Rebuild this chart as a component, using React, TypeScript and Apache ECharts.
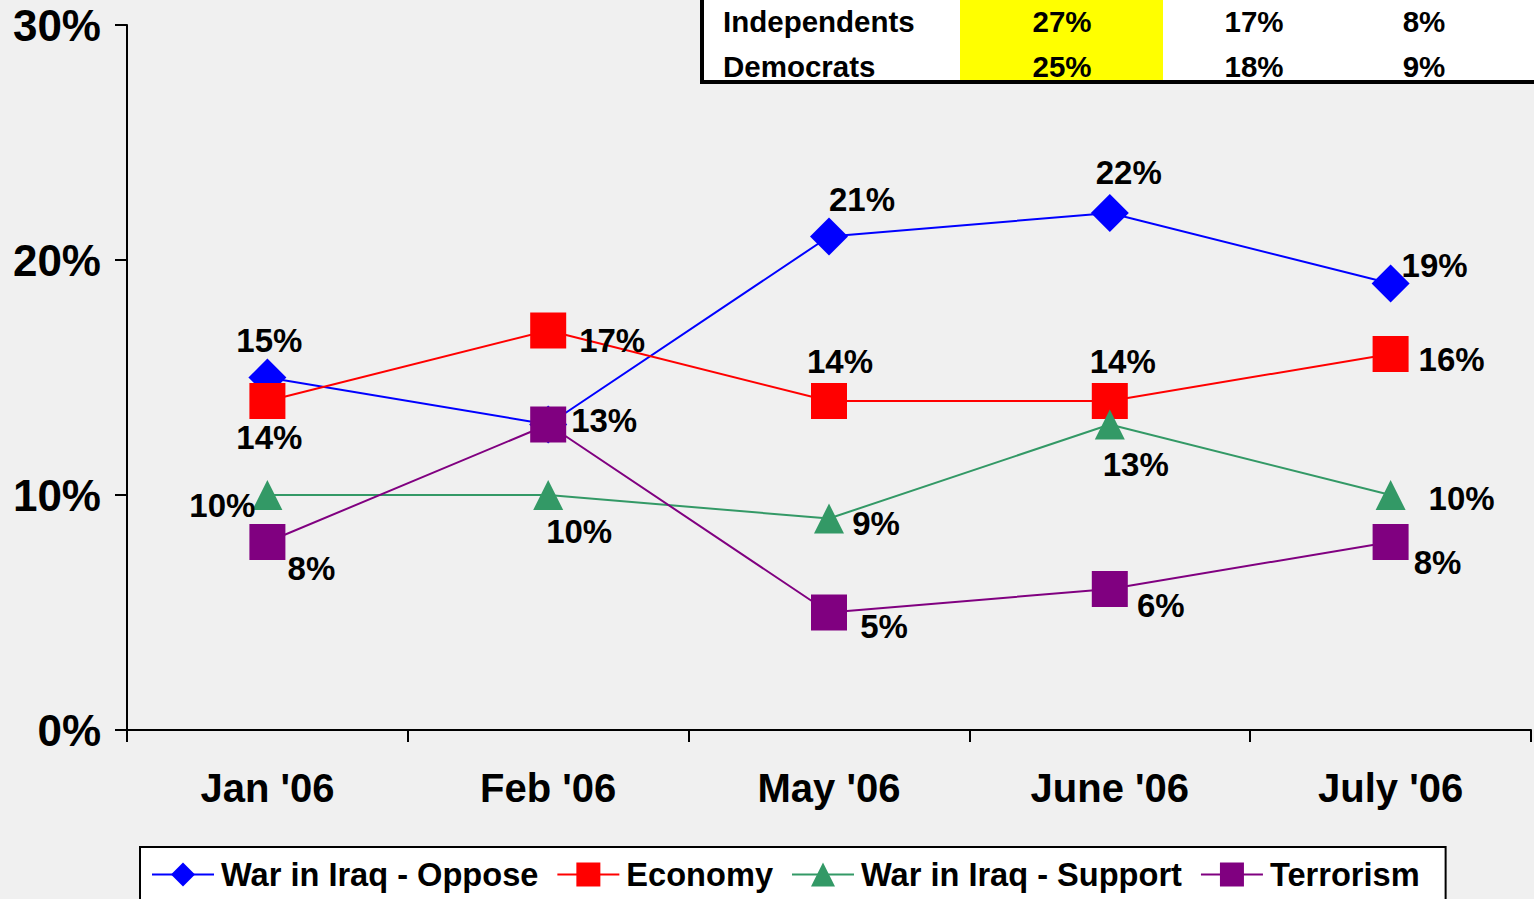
import React, { useEffect, useRef } from "react";
import * as echarts from "echarts";

const categories = ["Jan '06", "Feb '06", "May '06", "June '06", "July '06"];
const seriesNames = ["War in Iraq - Oppose", "Economy", "War in Iraq - Support", "Terrorism"];
const iraqOppose = [15, 13, 21, 22, 19];
const economy = [14, 17, 14, 14, 16];
const iraqSupport = [10, 10, 9, 13, 10];
const terrorism = [8, 13, 5, 6, 8];
const yTicks = [0, 10, 20, 30];

const tableRows = [
  ["Independents", "27%", "17%", "8%"],
  ["Democrats", "25%", "18%", "9%"],
];

// label offsets (style only) per series / point; null = no label
const labelOffsets: (number[] | null)[][] = [
  [[2, -37], null, [33, -37], [19, -41], [44, -18]],
  [[2, 36], [64, 10], [11, -40], [13, -40], [61, 5]],
  [[-45, 10], [31, 36], [47, 5], [26, 40], [71, 3]],
  [[44, 26], [56, -4], [55, 14], [51, 16], [47, 20]],
];

const colors = ["#0000FF", "#FF0000", "#339966", "#800080"];
const symbols = ["diamond", "rect", "triangle", "rect"];
const symbolSizes: number[][] = [[38, 38], [36, 36], [30, 30], [36, 36]];

const FONT = "'Liberation Sans', Arial, Helvetica, sans-serif";

export default function App() {
  const ref = useRef<HTMLDivElement>(null);
  useEffect(() => {
    const chart = echarts.init(ref.current!, null, { renderer: "svg" });
    const dataSets = [iraqOppose, economy, iraqSupport, terrorism];
    const series = dataSets.map((vals, si) => ({
      name: seriesNames[si],
      type: "line",
      symbol: symbols[si],
      symbolSize: symbolSizes[si],
      color: colors[si],
      lineStyle: { color: colors[si], width: 2 },
      itemStyle: { color: colors[si] },
      z: 2 + si,
      label: {
        show: true,
        position: "inside",
        formatter: "{c}%",
        color: "#000",
        fontSize: 33,
        fontWeight: "bold",
        fontFamily: FONT,
        align: "center",
        verticalAlign: "middle",
      },
      emphasis: { disabled: true },
      data: vals.map((v, i) => {
        const off = labelOffsets[si][i];
        return off
          ? { value: v, label: { offset: off } }
          : { value: v, label: { show: false } };
      }),
    }));

    const colX = [723, 1062, 1254, 1424];
    const rowY = [21, 66];
    const tableTexts: any[] = [];
    tableRows.forEach((row, ri) => {
      row.forEach((cell, ci) => {
        tableTexts.push({
          type: "text",
          x: colX[ci],
          y: rowY[ri],
          z: 12,
          style: {
            text: cell,
            fill: "#000",
            fontSize: 29.5,
            fontWeight: "bold",
            fontFamily: FONT,
            textAlign: ci === 0 ? "left" : "center",
            textVerticalAlign: "middle",
          },
        });
      });
    });

    chart.setOption({
      animation: false,
      backgroundColor: "#F0F0F0",
      grid: { left: 127, right: 3, top: 25, bottom: 169, containLabel: false },
      xAxis: {
        type: "category",
        data: categories,
        boundaryGap: true,
        axisLine: { lineStyle: { color: "#000", width: 2 } },
        axisTick: { show: true, length: 12, lineStyle: { color: "#000", width: 2 } },
        axisLabel: {
          color: "#000",
          fontSize: 40,
          fontWeight: "bold",
          fontFamily: FONT,
          margin: 38,
          interval: 0,
        },
        splitLine: { show: false },
      },
      yAxis: {
        type: "value",
        min: yTicks[0],
        max: yTicks[yTicks.length - 1],
        interval: 10,
        axisLine: { show: true, lineStyle: { color: "#000", width: 2 } },
        axisTick: { show: true, length: 12, lineStyle: { color: "#000", width: 2 } },
        axisLabel: {
          color: "#000",
          fontSize: 44,
          fontWeight: "bold",
          fontFamily: FONT,
          margin: 26,
          formatter: "{value}%",
        },
        splitLine: { show: false },
      },
      legend: {
        left: 140,
        top: 847,
        data: seriesNames,
        backgroundColor: "#fff",
        borderColor: "#000",
        borderWidth: 2,
        borderRadius: 0,
        padding: [11, 26, 20, 11],
        itemGap: 18,
        itemWidth: 62,
        itemHeight: 30,
        textStyle: {
          color: "#000",
          fontSize: 32.6,
          fontWeight: "bold",
          fontFamily: FONT,
          padding: [0, 0, 0, 2],
        },
      },
      graphic: [
        { type: "rect", z: 10, shape: { x: 702, y: 0, width: 832, height: 82 }, style: { fill: "#fff" } },
        { type: "rect", z: 11, shape: { x: 960, y: 0, width: 203, height: 80 }, style: { fill: "#FFFF00" } },
        { type: "line", z: 12, shape: { x1: 702, y1: 0, x2: 702, y2: 84 }, style: { stroke: "#000", lineWidth: 4 } },
        { type: "line", z: 12, shape: { x1: 700, y1: 82, x2: 1534, y2: 82 }, style: { stroke: "#000", lineWidth: 4 } },
        ...tableTexts,
      ],
      series,
    });
    return () => chart.dispose();
  }, []);
  return (
    <div
      ref={ref}
      style={{ position: "absolute", left: 0, top: 0, width: 1534, height: 899 }}
    />
  );
}
